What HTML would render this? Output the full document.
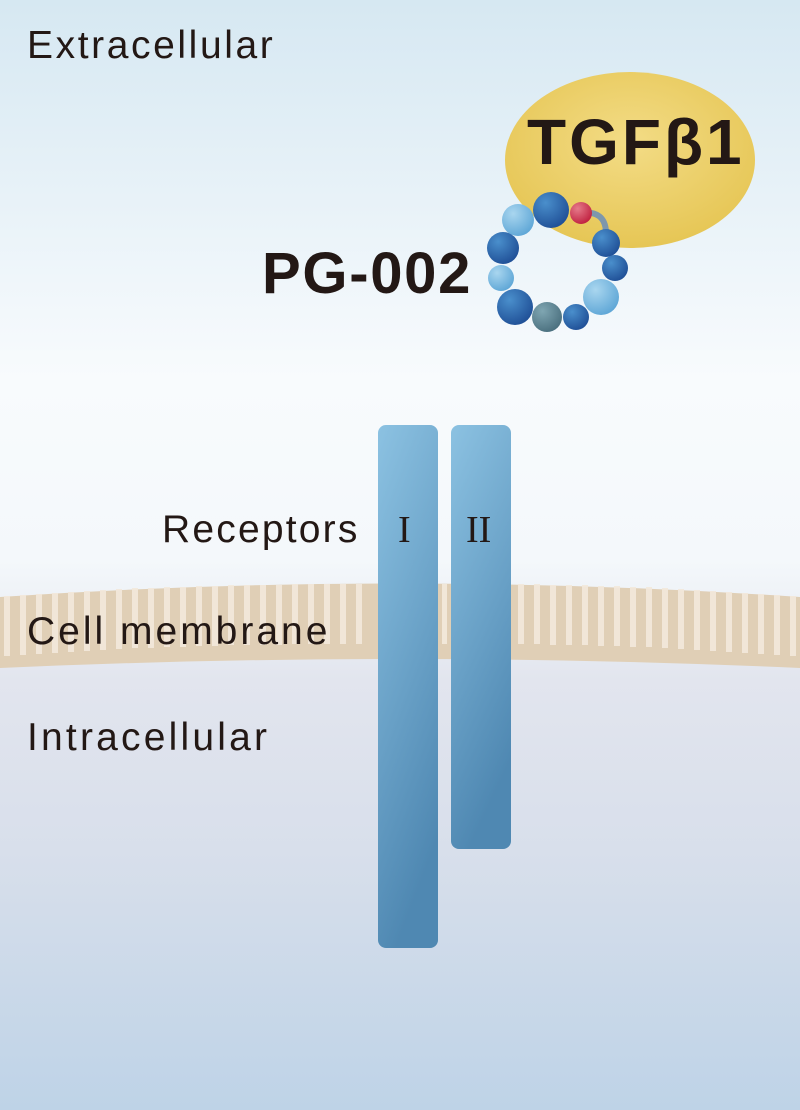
<!DOCTYPE html>
<html><head><meta charset="utf-8"><style>
html,body{margin:0;padding:0}
body{width:800px;height:1110px;overflow:hidden;position:relative;font-family:"Liberation Sans",sans-serif;
background:linear-gradient(180deg,#d6e8f2 0px,#e8f2f8 200px,#f8fbfd 380px,#f4f8fb 560px,#e2e5ee 680px,#d8dfeb 850px,#bed3e7 1110px);}
.t{position:absolute;color:#231815;white-space:nowrap}
</style></head><body>
<svg width="800" height="1110" style="position:absolute;left:0;top:0">
<defs>
<radialGradient id="dk" cx="35%" cy="30%" r="75%"><stop offset="0" stop-color="#4a8fcc"/><stop offset="1" stop-color="#1f4f96"/></radialGradient>
<radialGradient id="lt" cx="35%" cy="30%" r="75%"><stop offset="0" stop-color="#a9d6ef"/><stop offset="1" stop-color="#5ea6d6"/></radialGradient>
<radialGradient id="gr" cx="35%" cy="30%" r="75%"><stop offset="0" stop-color="#7fa6b2"/><stop offset="1" stop-color="#4a6f7e"/></radialGradient>
<radialGradient id="rd" cx="35%" cy="30%" r="75%"><stop offset="0" stop-color="#e57a8a"/><stop offset="1" stop-color="#c0203f"/></radialGradient>
<radialGradient id="yl" cx="50%" cy="40%" r="60%"><stop offset="0" stop-color="#f3dc86"/><stop offset="1" stop-color="#e6c655"/></radialGradient>
<linearGradient id="rc" x1="0" y1="0" x2="0.3" y2="1"><stop offset="0" stop-color="#8cc2e2"/><stop offset="1" stop-color="#4f88b2"/></linearGradient>
</defs>
<ellipse cx="630" cy="160" rx="125" ry="88" fill="url(#yl)"/>
<path d="M0 597 Q400 570 800 597 L800 668 Q400 650 0 668 Z" fill="#e0cfb6"/>
<g fill="#f3e9dc" opacity="0.9">
<rect x="4" y="596" width="6" height="60"/><rect x="20" y="595" width="6" height="60"/><rect x="36" y="594" width="6" height="60"/><rect x="52" y="593" width="6" height="60"/><rect x="68" y="592" width="6" height="60"/><rect x="84" y="591" width="6" height="60"/><rect x="100" y="590" width="6" height="60"/><rect x="116" y="589" width="6" height="60"/><rect x="132" y="588" width="6" height="60"/><rect x="148" y="588" width="6" height="60"/><rect x="164" y="587" width="6" height="60"/><rect x="180" y="587" width="6" height="60"/><rect x="196" y="586" width="6" height="60"/><rect x="212" y="586" width="6" height="60"/><rect x="228" y="585" width="6" height="60"/><rect x="244" y="585" width="6" height="60"/><rect x="260" y="585" width="6" height="60"/><rect x="276" y="585" width="6" height="60"/><rect x="292" y="584" width="6" height="60"/><rect x="308" y="584" width="6" height="60"/><rect x="324" y="584" width="6" height="60"/><rect x="340" y="584" width="6" height="60"/><rect x="356" y="584" width="6" height="60"/>
<rect x="442" y="584" width="5" height="60"/>
<rect x="518" y="584" width="6" height="60"/><rect x="534" y="584" width="6" height="60"/><rect x="550" y="585" width="6" height="60"/><rect x="566" y="585" width="6" height="60"/><rect x="582" y="585" width="6" height="60"/><rect x="598" y="586" width="6" height="60"/><rect x="614" y="586" width="6" height="60"/><rect x="630" y="587" width="6" height="60"/><rect x="646" y="587" width="6" height="60"/><rect x="662" y="588" width="6" height="60"/><rect x="678" y="589" width="6" height="60"/><rect x="694" y="590" width="6" height="60"/><rect x="710" y="591" width="6" height="60"/><rect x="726" y="592" width="6" height="60"/><rect x="742" y="593" width="6" height="60"/><rect x="758" y="594" width="6" height="60"/><rect x="774" y="595" width="6" height="60"/><rect x="790" y="596" width="6" height="60"/>
</g>
<rect x="378" y="425" width="60" height="523" rx="8" fill="url(#rc)"/>
<rect x="451" y="425" width="60" height="424" rx="8" fill="url(#rc)"/>
<path d="M581 213 Q605 210 606 232" stroke="#7d97ac" stroke-width="6" fill="none"/>
<circle cx="518" cy="220" r="16" fill="url(#lt)"/>
<circle cx="551" cy="210" r="18" fill="url(#dk)"/>
<circle cx="581" cy="213" r="11" fill="url(#rd)"/>
<circle cx="606" cy="243" r="14" fill="url(#dk)"/>
<circle cx="615" cy="268" r="13" fill="url(#dk)"/>
<circle cx="601" cy="297" r="18" fill="url(#lt)"/>
<circle cx="576" cy="317" r="13" fill="url(#dk)"/>
<circle cx="547" cy="317" r="15" fill="url(#gr)"/>
<circle cx="515" cy="307" r="18" fill="url(#dk)"/>
<circle cx="501" cy="278" r="13" fill="url(#lt)"/>
<circle cx="503" cy="248" r="16" fill="url(#dk)"/>
</svg>
<div class="t" style="left:27px;top:24px;font-size:39px;letter-spacing:2.6px">Extracellular</div>
<div class="t" style="left:527px;top:105px;font-size:64px;font-weight:bold;letter-spacing:3px">TGFβ1</div>
<div class="t" style="left:262px;top:240px;font-size:58px;font-weight:bold;letter-spacing:1.7px">PG-002</div>
<div class="t" style="left:162px;top:508px;font-size:39px;letter-spacing:2.2px">Receptors</div>
<div class="t" style="left:398px;top:508px;font-size:38px;font-family:'Liberation Serif',serif">I</div>
<div class="t" style="left:466px;top:508px;font-size:38px;font-family:'Liberation Serif',serif">II</div>
<div class="t" style="left:27px;top:610px;font-size:39px;letter-spacing:3px">Cell membrane</div>
<div class="t" style="left:27px;top:716px;font-size:39px;letter-spacing:3.2px">Intracellular</div>
</body></html>
